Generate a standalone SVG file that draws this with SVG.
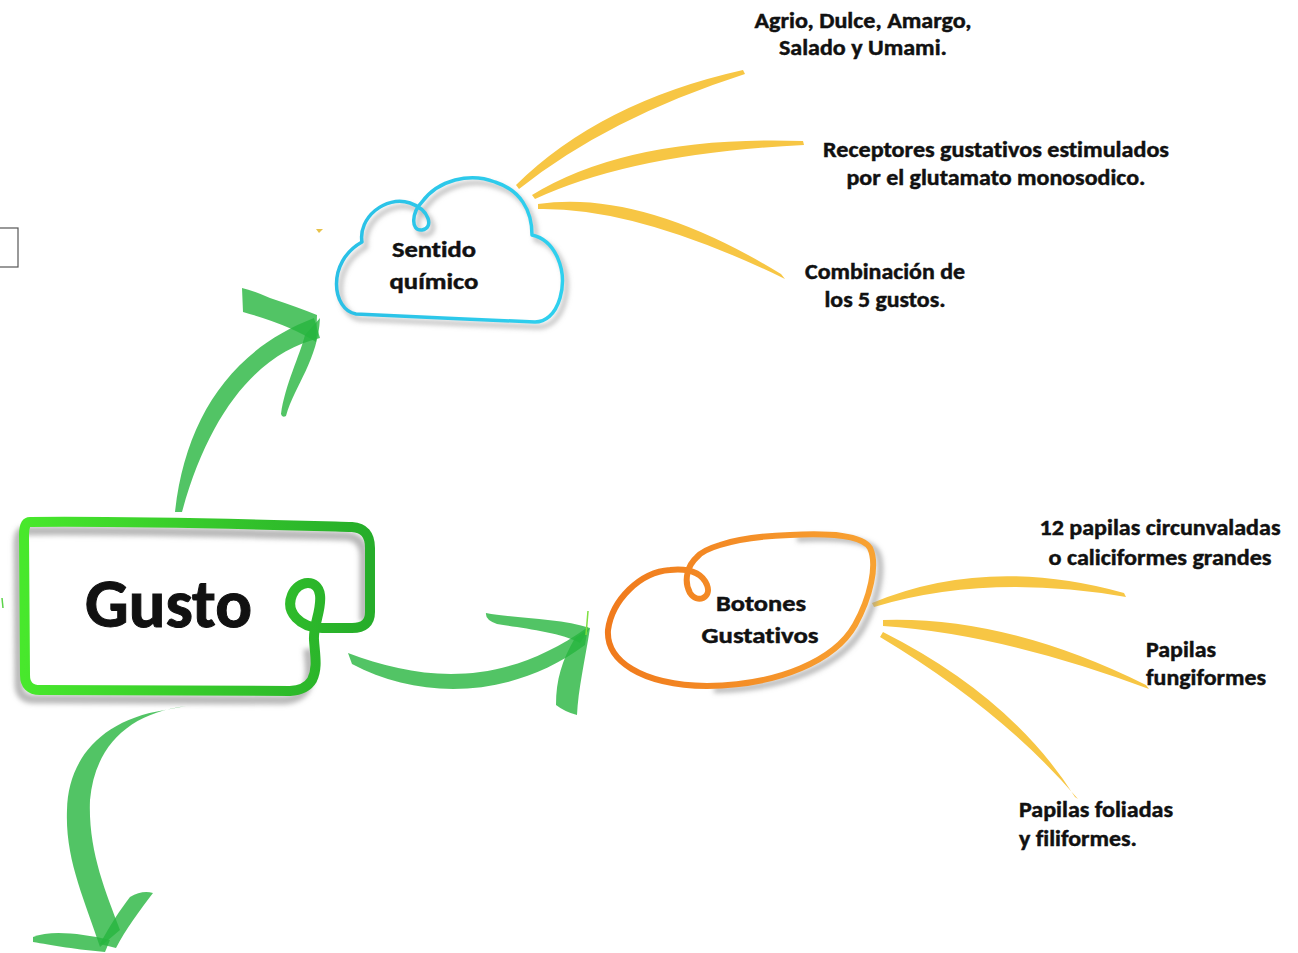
<svg xmlns="http://www.w3.org/2000/svg" width="1298" height="953" viewBox="0 0 1298 953">
<defs>
<style>
.t{font-family:Carlito,Lato,"Liberation Sans",sans-serif;font-weight:bold;font-size:22px;fill:#111;stroke:#111;stroke-width:0.45px;font-variant-ligatures:none;font-feature-settings:"liga" 0}
.c{text-anchor:middle}
.arr{fill:#27b53f;fill-opacity:0.8}
.ray{fill:#f7c644}
.sh{fill:none;stroke:#9a9a9a;stroke-opacity:0.7;filter:url(#blur)}
</style>
<filter id="blur" x="-10%" y="-10%" width="120%" height="120%"><feGaussianBlur stdDeviation="2.5"/></filter>
<linearGradient id="gGreen" x1="0" y1="0" x2="1" y2="0"><stop offset="0" stop-color="#48e82c"/><stop offset="1" stop-color="#26ad2a"/></linearGradient>
<linearGradient id="gOrange" x1="0" y1="0" x2="1" y2="0"><stop offset="0" stop-color="#f07a1c"/><stop offset="1" stop-color="#f8a232"/></linearGradient>
<linearGradient id="gBlue" x1="0" y1="0" x2="1" y2="0"><stop offset="0" stop-color="#2ac0e6"/><stop offset="1" stop-color="#2fd0ee"/></linearGradient>
</defs>
<rect width="1298" height="953" fill="#fff"/>
<rect x="-2" y="228" width="20" height="39" fill="#fff" stroke="#555" stroke-width="1.2"/>
<path d="M316 229 L323 229 L319 233 Z" fill="#e8c24a"/>
<path d="M2 598 L3 608" stroke="#5cd34a" stroke-width="1.5"/>

<g id="connectors">
<g id="rays-cloud">
<path class="ray" d="M516 185 Q600 102 743 70 L745 74 Q608 118 519 189 Z"/>
<path class="ray" d="M532 195 Q630 135 803 141 L804 145 Q634 153 535 199 Z"/>
<path class="ray" d="M538 204 Q642 189 781 274 L785 279 Q637 207 538 209 Z"/>
</g>
<g id="rays-botones">
<path class="ray" d="M872 603 Q987 555 1124 593 L1126 597 Q987 573 874 607 Z"/>
<path class="ray" d="M883 620 Q1007 616 1146 685 L1149 689 Q1002 634 883 626 Z"/>
<path class="ray" d="M883 632 Q1012 697 1075 797 L1078 799 Q1002 710 880 637 Z"/>
</g>
<g id="arrow-up">
<path class="arr" d="M175 512 C185 420 230 350 314 318 L320 338 C260 352 210 410 182 512 Z"/>
<path class="arr" d="M242 288 Q252 290 270 298 Q300 308 317 315 L316 342 Q290 325 243 312 Z"/>
<path class="arr" d="M320 318 C318 360 295 385 286 416 Q282 418 281 414 C285 385 300 355 305 335 Z"/>
</g>
<g id="arrow-right">
<path class="arr" d="M348 653 C420 680 500 690 588 627 L585 645 C510 700 420 700 352 664 Z"/>
<path class="arr" d="M486 613 C510 618 560 618 590 628 L580 643 C560 632 520 628 497 624 Q485 620 486 613 Z"/>
<path class="arr" d="M590 628 C585 660 578 690 577 715 Q565 712 556 705 C556 680 562 660 575 638 Z"/>
<path d="M588 611 L586 635" stroke="#7ee040" stroke-width="1.5" fill="none"/>
</g>
<g id="arrow-down">
<path class="arr" d="M186 706 C130 713 95 745 90 800 C88 850 105 890 120 930 L100 947 C85 900 65 860 67 810 C68 760 100 720 165 710 Z"/>
<path class="arr" d="M33 937 C50 930 80 933 110 940 L105 952 C80 950 50 945 33 942 Z"/>
<path class="arr" d="M153 893 C140 910 125 930 116 948 L100 944 C110 925 120 910 130 897 Q142 890 153 893 Z"/>
</g>
</g>

<g id="node-gusto">
<path d="M30 522 C150 521 280 525 352 527 Q370 528 370 548 L370 612 Q370 628 352 628 L322 628 C300 628 285 612 292 595 C298 580 318 578 320 595 C322 610 313 625 314 640 C315 655 318 668 312 680 Q306 690 290 691 L40 690 Q25 690 25 675 L24 535 Q24 522 30 522 Z" fill="#fff"/>
<path class="sh" stroke-width="9" transform="translate(-6 9)" d="M30 522 C150 521 280 525 352 527 Q370 528 370 548 L370 612 M314 640 C315 655 318 668 312 680 Q306 690 290 691 L40 690 Q25 690 25 675 L24 535 Q24 522 30 522"/>
<path d="M30 522 C150 521 280 525 352 527 Q370 528 370 548 L370 612 Q370 628 352 628 L322 628 C300 628 285 612 292 595 C298 580 318 578 320 595 C322 610 313 625 314 640 C315 655 318 668 312 680 Q306 690 290 691 L40 690 Q25 690 25 675 L24 535 Q24 522 30 522 Z" fill="none" stroke="url(#gGreen)" stroke-width="10" stroke-linejoin="round"/>
<text class="t" x="85" y="627" style="font-size:68px;stroke-width:1px" textLength="167" lengthAdjust="spacingAndGlyphs">Gusto</text>
</g>

<g id="node-sentido">
<path class="sh" stroke-width="4" transform="translate(4 5)" d="M356 314 C332 310 326 262 362 242 C358 218 385 195 410 203 C430 210 434 228 422 230 C410 231 412 212 422 202 C438 180 470 172 495 182 C520 190 532 210 532 235 C555 240 568 270 560 298 C555 315 545 322 535 322 C480 320 400 316 356 314 Z"/>
<path d="M356 314 C332 310 326 262 362 242 C358 218 385 195 410 203 C430 210 434 228 422 230 C410 231 412 212 422 202 C438 180 470 172 495 182 C520 190 532 210 532 235 C555 240 568 270 560 298 C555 315 545 322 535 322 C480 320 400 316 356 314 Z" fill="none" stroke="url(#gBlue)" stroke-width="3.5" stroke-linejoin="round"/>
<text class="t c" x="434" y="257" textLength="84" lengthAdjust="spacingAndGlyphs">Sentido</text>
<text class="t c" x="434" y="289" textLength="89" lengthAdjust="spacingAndGlyphs">químico</text>
</g>

<g id="node-botones">
<path class="sh" stroke-width="6" transform="translate(7 4)" d="M790 535 C830 533 862 535 870 548 C878 565 870 598 855 625 C835 660 780 685 707 686"/>
<path d="M697 557 C688 565 683 580 690 593 C697 604 712 598 707 585 C702 573 690 568 670 570 C640 572 612 600 608 630 C606 660 640 685 707 686 C780 685 835 660 855 625 C870 598 878 565 870 548 C862 535 830 533 790 535 C760 536 735 540 720 545 C710 548 702 551 697 557 Z" fill="none" stroke="url(#gOrange)" stroke-width="6" stroke-linejoin="round"/>
<text class="t c" x="761" y="611" textLength="90" lengthAdjust="spacingAndGlyphs">Botones</text>
<text class="t c" x="760" y="643" textLength="117" lengthAdjust="spacingAndGlyphs">Gustativos</text>
</g>

<g id="label-sabores">
<text class="t c" x="863" y="28" textLength="217" lengthAdjust="spacingAndGlyphs">Agrio, Dulce, Amargo,</text>
<text class="t c" x="863" y="55" textLength="168" lengthAdjust="spacingAndGlyphs">Salado y Umami.</text>
</g>
<g id="label-receptores">
<text class="t c" x="996" y="157" textLength="346" lengthAdjust="spacingAndGlyphs">Receptores gustativos estimulados</text>
<text class="t c" x="996" y="185" textLength="299" lengthAdjust="spacingAndGlyphs">por el glutamato monosodico.</text>
</g>
<g id="label-combinacion">
<text class="t c" x="885" y="279" textLength="160" lengthAdjust="spacingAndGlyphs">Combinación de</text>
<text class="t c" x="885" y="307" textLength="121" lengthAdjust="spacingAndGlyphs">los 5 gustos.</text>
</g>
<g id="label-circunvaladas">
<text class="t c" x="1160" y="535" textLength="241" lengthAdjust="spacingAndGlyphs">12 papilas circunvaladas</text>
<text class="t c" x="1160" y="565" textLength="223" lengthAdjust="spacingAndGlyphs">o caliciformes grandes</text>
</g>
<g id="label-fungiformes">
<text class="t" x="1146" y="657" textLength="70" lengthAdjust="spacingAndGlyphs">Papilas</text>
<text class="t" x="1146" y="685" textLength="120" lengthAdjust="spacingAndGlyphs">fungiformes</text>
</g>
<g id="label-foliadas">
<text class="t" x="1019" y="817" textLength="154" lengthAdjust="spacingAndGlyphs">Papilas foliadas</text>
<text class="t" x="1019" y="846" textLength="118" lengthAdjust="spacingAndGlyphs">y filiformes.</text>
</g>
</svg>
